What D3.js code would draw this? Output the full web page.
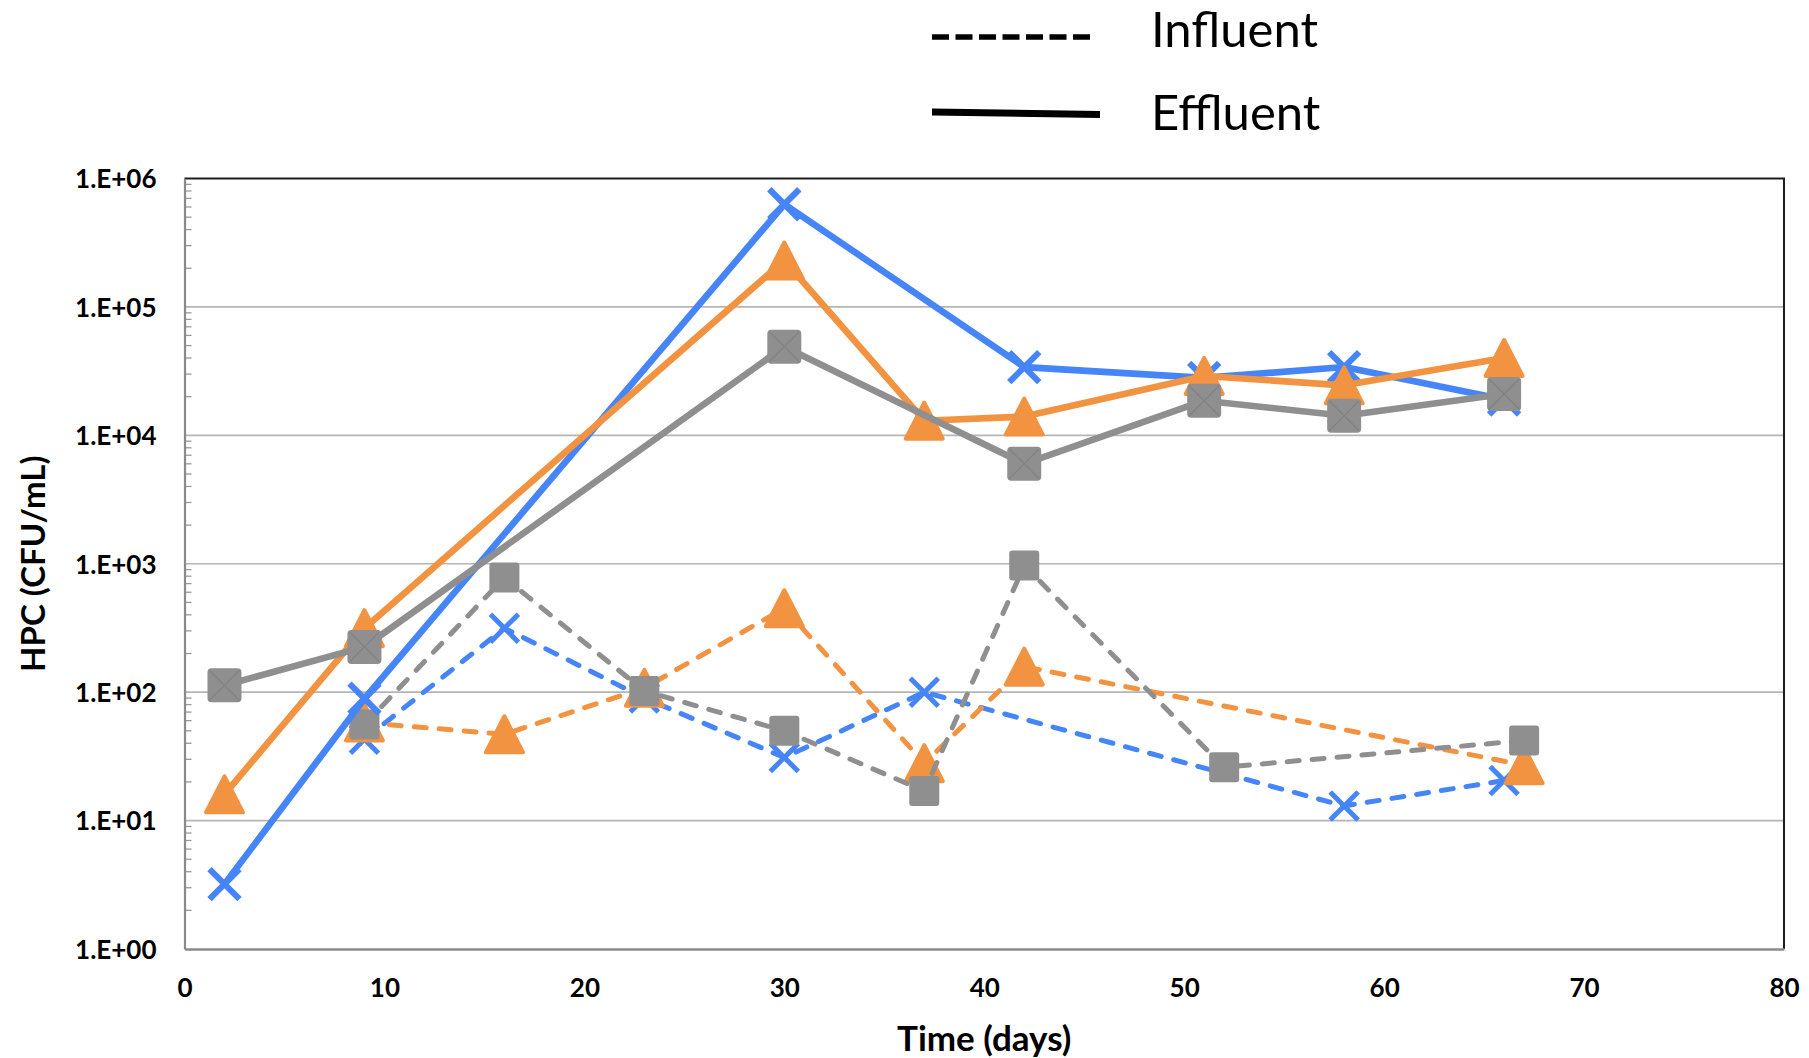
<!DOCTYPE html>
<html>
<head>
<meta charset="utf-8">
<script src="https://cdn.jsdelivr.net/npm/d3@7"></script>
<style>
  body { margin: 0; background: #fff; }
  svg { display: block; font-family: Lato, "Open Sans", sans-serif; }
</style>
</head>
<body>
<svg id="chart" width="1809" height="1058"></svg>
<script>
// Influent (dashed) series
var inflBlueDays = [9, 16, 23, 30, 37, 58, 66],
    inflBlueHPC = [43, 315, 90, 31, 100, 13, 20.5];
var inflOrangeDays = [9, 16, 23, 30, 37, 42, 67],
    inflOrangeHPC = [58, 47, 108, 450, 28, 158, 27];
var inflGrayDays = [9, 16, 23, 30, 37, 42, 52, 67],
    inflGrayHPC = [56, 780, 102, 50, 17, 970, 26, 42];

// Effluent (solid) series
var effBlueDays = [2, 9, 30, 42, 51, 58, 66],
    effBlueHPC = [3.2, 89, 6.3e5, 3.4e4, 2.8e4, 3.4e4, 1.9e4];
var effOrangeDays = [2, 9, 30, 37, 42, 51, 58, 66],
    effOrangeHPC = [16, 315, 2.3e5, 1.3e4, 1.4e4, 2.9e4, 2.45e4, 4.0e4];
var effGrayDays = [2, 9, 30, 42, 51, 58, 66],
    effGrayHPC = [113, 225, 4.9e4, 6.0e3, 1.86e4, 1.42e4, 2.1e4];

// Axis ticks
var xTicks = [0, 10, 20, 30, 40, 50, 60, 70, 80];
var yTicks = [1, 10, 100, 1e3, 1e4, 1e5, 1e6];
var yTickLabels = ["1.E+00", "1.E+01", "1.E+02", "1.E+03", "1.E+04", "1.E+05", "1.E+06"];
var legendLabels = ["Influent", "Effluent"];

var blue = "#4585f8", orange = "#f19340", gray = "#8f8f8f";

var plot = {left: 184.5, right: 1784, top: 178.5, bottom: 949};

var svg = d3.select("#chart");
svg.append("rect").attr("width", 1809).attr("height", 1058).attr("fill", "#fff");

var x = d3.scaleLinear().domain([0, 80]).range([plot.left, plot.right]);
var y = d3.scaleLog().domain([1, 1e6]).range([plot.bottom, plot.top]);

// gridlines at every decade
svg.append("g").selectAll("line")
  .data(yTicks.slice(1, -1)).enter().append("line")
  .attr("x1", plot.left).attr("x2", plot.right)
  .attr("y1", d => y(d)).attr("y2", d => y(d))
  .attr("stroke", "#b5b5b5").attr("stroke-width", 1.6);

// minor ticks on the y axis (inside)
var minor = [];
for (var p = 0; p < 6; p++)
  for (var m = 2; m <= 9; m++) minor.push(m * Math.pow(10, p));
svg.append("g").selectAll("line")
  .data(minor).enter().append("line")
  .attr("x1", plot.left).attr("x2", plot.left + 7)
  .attr("y1", d => y(d)).attr("y2", d => y(d))
  .attr("stroke", "#9a9a9a").attr("stroke-width", 1.3);

// plot frame
svg.append("line").attr("x1", plot.left).attr("x2", plot.right + 1)
  .attr("y1", plot.top).attr("y2", plot.top)
  .attr("stroke", "#1e1e1e").attr("stroke-width", 2.2);
svg.append("line").attr("x1", plot.right).attr("x2", plot.right)
  .attr("y1", plot.top).attr("y2", plot.bottom)
  .attr("stroke", "#1e1e1e").attr("stroke-width", 2);

// axes
var yAxis = svg.append("g").attr("transform", "translate(" + plot.left + ",0)")
  .call(d3.axisLeft(y).tickValues(yTicks).tickSize(0).tickPadding(28)
    .tickFormat((d, i) => yTickLabels[i]));
yAxis.select(".domain").attr("stroke", "#8a8a8a").attr("stroke-width", 2.2);
yAxis.selectAll("text").attr("font-size", 26).attr("font-weight", 700)
  .attr("fill", "#000").attr("font-family", "Lato").attr("dy", "0.36em");

var xAxis = svg.append("g").attr("transform", "translate(0," + plot.bottom + ")")
  .call(d3.axisBottom(x).tickValues(xTicks).tickSize(0));
xAxis.select(".domain").attr("stroke", "#8a8a8a").attr("stroke-width", 2.6);
xAxis.selectAll("text").attr("font-size", 26).attr("font-weight", 700)
  .attr("fill", "#000").attr("font-family", "Lato")
  .attr("y", 39).attr("dy", "0.36em");

// axis titles
svg.append("text").attr("x", (plot.left + plot.right) / 2).attr("y", 1038)
  .attr("dy", "0.36em").attr("text-anchor", "middle")
  .attr("font-size", 35).attr("font-weight", 700).text("Time (days)");
svg.append("text").attr("transform", "translate(33," + (plot.top + plot.bottom) / 2 + ") rotate(-90)")
  .attr("dy", "0.36em").attr("text-anchor", "middle")
  .attr("font-size", 33).attr("font-weight", 700).text("HPC (CFU/mL)");

// series drawing
var line = d3.line().x(d => x(d.day)).y(d => y(d.v));

function zip(days, vals) {
  return days.map((dd, i) => ({day: dd, v: vals[i]}));
}

function drawSeries(days, vals, color, marker, dashed) {
  var data = zip(days, vals);
  var g = svg.append("g");
  g.append("path").datum(data).attr("d", line)
    .attr("fill", "none").attr("stroke", color)
    .attr("stroke-width", dashed ? 5 : 6.6)
    .attr("stroke-linejoin", "round")
    .attr("stroke-linecap", dashed ? "round" : "butt")
    .attr("stroke-dasharray", dashed ? "12,13" : null);

  var mk = g.selectAll("g.mk").data(data).enter().append("g")
    .attr("transform", d => "translate(" + x(d.day) + "," + y(d.v) + ")");

  if (marker == "x") {
    var s = dashed ? 14 : 15;
    mk.append("path").attr("d", "M" + (-s) + "," + (-s) + "L" + s + "," + s + "M" + s + "," + (-s) + "L" + (-s) + "," + s)
      .attr("stroke", color).attr("stroke-width", dashed ? 5 : 6.2).attr("fill", "none");
  } else if (marker == "tri") {
    var w = 18.5, h = 18;
    mk.append("path").attr("d", "M0," + (-h) + "L" + w + "," + h + "L" + (-w) + "," + h + "Z")
      .attr("fill", color).attr("stroke", color).attr("stroke-width", 4)
      .attr("stroke-linejoin", "round");
  } else {
    var hs = dashed ? 15 : 17;
    mk.append("rect").attr("x", -hs).attr("y", -hs).attr("width", 2 * hs).attr("height", 2 * hs)
      .attr("rx", dashed ? 3 : 4).attr("fill", color);
    if (!dashed) {
      mk.append("path").attr("d", "M-15,-15L15,15M15,-15L-15,15")
        .attr("stroke", "#828282").attr("stroke-width", 1.2).attr("fill", "none");
    }
  }
}

drawSeries(inflBlueDays, inflBlueHPC, blue, "x", true);
drawSeries(inflOrangeDays, inflOrangeHPC, orange, "tri", true);
drawSeries(inflGrayDays, inflGrayHPC, gray, "sq", true);
drawSeries(effBlueDays, effBlueHPC, blue, "x", false);
drawSeries(effOrangeDays, effOrangeHPC, orange, "tri", false);
drawSeries(effGrayDays, effGrayHPC, gray, "sq", false);

// legend
var legend = svg.append("g");
legend.append("line").attr("x1", 932).attr("x2", 1094).attr("y1", 37).attr("y2", 37)
  .attr("stroke", "#000").attr("stroke-width", 5.5).attr("stroke-dasharray", "17,6.5");
legend.append("line").attr("x1", 932).attr("x2", 1100).attr("y1", 112).attr("y2", 114.5)
  .attr("stroke", "#000").attr("stroke-width", 7);
legend.selectAll("text").data(legendLabels).enter().append("text")
  .attr("x", 1151).attr("y", (d, i) => i == 0 ? 29 : 112)
  .attr("dy", "0.36em").attr("font-size", 49).attr("fill", "#000")
  .text(d => d);
</script>
</body>
</html>
